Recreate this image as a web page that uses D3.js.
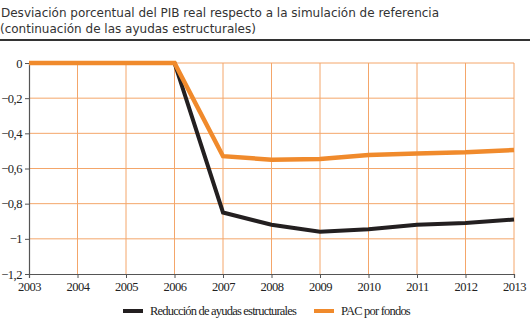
<!DOCTYPE html>
<html>
<head>
<meta charset="utf-8">
<script src="https://cdn.jsdelivr.net/npm/d3@7"></script>
<style>
  body { margin: 0; background: #fff; }
  #chart { width: 530px; height: 333px; }
  .tick-lbl { font-family: "Liberation Serif", serif; font-size: 12.5px; fill: #222; letter-spacing: -0.5px; }
  .legend-lbl { font-family: "Liberation Serif", serif; font-size: 12.5px; fill: #222; letter-spacing: -0.8px; }
</style>
</head>
<body>
<div id="chart"></div>
<script>
const years = [2003, 2004, 2005, 2006, 2007, 2008, 2009, 2010, 2011, 2012, 2013];
const reduccion = [0, 0, 0, 0, -0.85, -0.92, -0.96, -0.945, -0.92, -0.91, -0.89];
const pac = [0, 0, 0, 0, -0.53, -0.55, -0.546, -0.523, -0.514, -0.508, -0.495];
const yTicks = [0, -0.2, -0.4, -0.6, -0.8, -1, -1.2];
const seriesNames = ["Reducción de ayudas estructurales", "PAC por fondos"];
const seriesColors = ["#231f20", "#f08a2c"];

const width = 530, height = 333;
const svg = d3.select("#chart").append("svg")
  .attr("width", width).attr("height", height);

// title
svg.append("text").attr("x", 1).attr("y", 17)
  .style("font-family", "DejaVu Sans, sans-serif").style("font-size", "12px").style("fill", "#333")
  .text("Desviación porcentual del PIB real respecto a la simulación de referencia");
svg.append("text").attr("x", 0).attr("y", 33)
  .style("font-family", "DejaVu Sans, sans-serif").style("font-size", "12px").style("fill", "#333")
  .text("(continuación de las ayudas estructurales)");
svg.append("line").attr("x1", 0).attr("x2", width).attr("y1", 40).attr("y2", 40)
  .attr("stroke", "#333").attr("stroke-width", 2);

const x = d3.scaleLinear().domain([2003, 2013]).range([29, 514]);
const y = d3.scaleLinear().domain([-1.2, 0]).range([274, 63]);

// grid
const grid = svg.append("g");
grid.selectAll(".hg").data(yTicks.slice(0, -1)).join("line")
  .attr("x1", x(2003)).attr("x2", x(2013))
  .attr("y1", d => y(d)).attr("y2", d => y(d))
  .attr("stroke", "#f4a66a").attr("stroke-width", 1);
grid.selectAll(".vg").data(years.slice(1)).join("line")
  .attr("x1", d => x(d)).attr("x2", d => x(d))
  .attr("y1", y(0)).attr("y2", y(-1.2))
  .attr("stroke", "#f4a66a").attr("stroke-width", 1);

// axes
const fmt = d => d === 0 ? "0" : d3.format("")(d).replace(".", ",");
const yAxis = svg.append("g").attr("transform", `translate(${x(2003)},0)`)
  .call(d3.axisLeft(y).tickValues(yTicks).tickFormat(fmt).tickSize(4).tickPadding(3));
const xAxis = svg.append("g").attr("transform", `translate(0,${y(-1.2)})`)
  .call(d3.axisBottom(x).tickValues(years).tickFormat(d3.format("d")).tickSize(4).tickPadding(4));
[yAxis, xAxis].forEach(a => {
  a.select(".domain").attr("stroke", "#555").attr("stroke-width", 1.2);
  a.selectAll(".tick line").attr("stroke", "#555");
  a.selectAll(".tick text").attr("class", "tick-lbl");
});

// lines
const line = d3.line().x((d, i) => x(years[i])).y(d => y(d));
svg.append("path").datum(reduccion).attr("d", line)
  .attr("fill", "none").attr("stroke", seriesColors[0]).attr("stroke-width", 4)
  .attr("stroke-linejoin", "miter");
svg.append("path").datum(pac).attr("d", line)
  .attr("fill", "none").attr("stroke", seriesColors[1]).attr("stroke-width", 4.5)
  .attr("stroke-linejoin", "miter");

// legend
const legendX = [123, 314];
const lg = svg.append("g");
seriesNames.forEach((name, i) => {
  lg.append("line").attr("x1", legendX[i]).attr("x2", legendX[i] + 20)
    .attr("y1", 311).attr("y2", 311)
    .attr("stroke", seriesColors[i]).attr("stroke-width", 4);
  lg.append("text").attr("class", "legend-lbl").attr("x", legendX[i] + 27).attr("y", 315)
    .text(name);
});
</script>
</body>
</html>
